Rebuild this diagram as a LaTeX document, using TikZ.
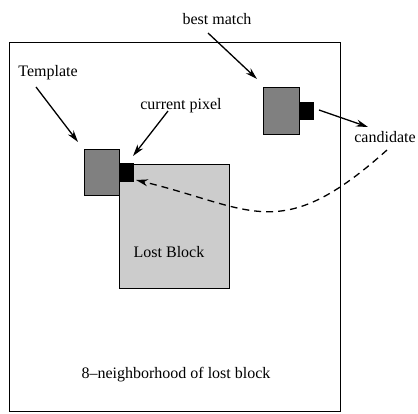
\documentclass[tikz,border=0pt]{standalone}
\usepackage{fontspec}
\setmainfont{Liberation Serif}
\usetikzlibrary{arrows.meta}
\begin{document}
\begin{tikzpicture}[x=1pt,y=-1pt,
  lbl/.style={font=\fontsize{16}{19}\selectfont, inner sep=0pt},
  blk/.style={draw, line width=1.2pt, inner sep=0pt, anchor=north west},
  ptr/.style={line width=1.3pt, -{Stealth[length=12pt,width=7pt]}},
]
\useasboundingbox (0,0) rectangle (418,413);
% search region around the lost block
\node[blk, minimum width=331pt, minimum height=369pt] (nb) at (9,42) {};
% lost block
\node[blk, fill=black!20, minimum width=110pt, minimum height=124pt] (lost) at (119,164) {};
% template and its current pixel
\node[blk, fill=black!50, minimum width=35pt, minimum height=46pt] (tmpl) at (84,149) {};
\node[blk, fill=black, minimum width=14pt, minimum height=18pt] (cpx) at (119,163) {};
% best matching candidate
\node[blk, fill=black!50, minimum width=36pt, minimum height=47pt] (bm) at (263,87) {};
\node[blk, fill=black, minimum width=14pt, minimum height=17pt] (bmp) at (299,102) {};

% labels
\node[lbl] (bmt) at (217,19) {best match};
\node[lbl] (tpt) at (48,73) {Template};
\node[lbl] (cpt) at (181,106) {current pixel};
\node[lbl] (cdt) at (385,137) {candidate};
\node[lbl] (lbt) at (169,252) {Lost Block};
\node[lbl] (nbt) at (176,375) {8--neighborhood of lost block};

% connector end points
\coordinate (bmA) at (208,33);
\coordinate (bmB) at (257,79);
\coordinate (tpA) at (36,87);
\coordinate (tpB) at (78,142);
\coordinate (cpA) at (168,111);
\coordinate (cpB) at (133,156);
\coordinate (cdA) at (319,110);
\coordinate (cdB) at (368,127);
\coordinate (dsA) at (387,150);
\coordinate (dsB) at (136,180);

\draw[ptr] (bmA) -- (bmB);
\draw[ptr] (tpA) -- (tpB);
\draw[ptr] (cpA) -- (cpB);
\draw[ptr] (cdA) -- (cdB);
\draw[ptr, dashed, dash pattern=on 7pt off 5pt]
  (dsA) .. controls (280,246) and (252,208) .. (dsB);
\end{tikzpicture}
\end{document}
